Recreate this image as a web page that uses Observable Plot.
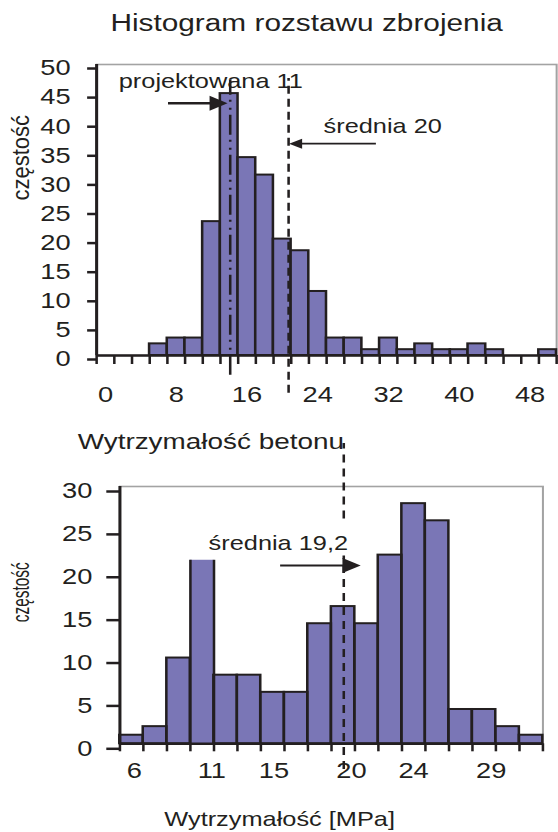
<!DOCTYPE html>
<html>
<head>
<meta charset="utf-8">
<script src="https://cdn.jsdelivr.net/npm/d3@7"></script>
<script src="https://cdn.jsdelivr.net/npm/@observablehq/plot@0.6"></script>
<style>
  body { margin: 0; background: #fff; }
  #chart svg { display: block; }
</style>
</head>
<body>
<div id="chart"></div>
<script>
// ---------- data: spacing histogram (top) ----------
const spacingCenters = [0, 2, 4, 6, 8, 10, 12, 14, 16, 18, 20, 22, 24, 26, 28, 30, 32, 34, 36, 38, 40, 42, 44, 46, 48, 50];
const spacingCounts  = [0, 0, 0, 2, 3, 3, 23, 45, 34, 31, 20, 18, 11, 3, 3, 1, 3, 1, 2, 1, 1, 2, 1, 0, 0, 1];
const spacingBinWidth = 2;
const spacingXTicks = [0, 8, 16, 24, 32, 40, 48];
const spacingYTicks = [0, 5, 10, 15, 20, 25, 30, 35, 40, 45, 50];
const spacingDesign = 14.1;   // "projektowana 11" line
const spacingMean = 20.7;     // "średnia 20" line

// ---------- data: concrete strength histogram (bottom) ----------
const strengthEdges  = [5.08, 6.59, 8.11, 9.62, 11.14, 12.65, 14.16, 15.68, 17.19, 18.71, 20.22, 21.73, 23.25, 24.76, 26.28, 27.79, 29.30, 30.82, 32.33];
const strengthCounts = [1, 2, 10, 21.4, 8, 8, 6, 6, 14, 16, 14, 22, 28, 26, 4, 4, 2, 1];
const strengthCutBin = 3;     // bar drawn without top edge
const strengthXTicks = [6, 11, 15, 20, 24, 29];
const strengthYTicks = [0, 5, 10, 15, 20, 25, 30];
const strengthMean = 19.5;    // "średnia 19,2" line

// ---------- styles ----------
const W = 440, S = 558 / W;
const INK = "#231f20", FILL = "#7a76b6", FRAME = "#a3a3a3";
const FONT = "'Liberation Sans', Arial, Helvetica, sans-serif";

const headRight = (L, H) => ({draw(ctx) { ctx.moveTo(0, 0); ctx.lineTo(-L, -H); ctx.lineTo(-L, H); ctx.closePath(); }});
const headLeft  = (L, H) => ({draw(ctx) { ctx.moveTo(0, 0); ctx.lineTo(L, -H); ctx.lineTo(L, H); ctx.closePath(); }});

function stretch(svg, h) {
  svg.setAttribute("width", 558);
  svg.setAttribute("height", h);
  svg.setAttribute("preserveAspectRatio", "none");
  svg.style.width = "558px";
  svg.style.height = h + "px";
  svg.style.maxWidth = "none";
  svg.style.overflow = "visible";
  return svg;
}
function squeezeText(svg, label, sx, sy) {
  svg.querySelectorAll("text").forEach(t => {
    if (t.textContent === label) {
      const tr = t.getAttribute("transform") || "";
      t.setAttribute("transform", tr + ` scale(${sx},${sy})`);
    }
  });
}

// ---------- top chart ----------
const spacingBins = spacingCenters.map((c, i) => ({x1: c - spacingBinWidth / 2, x2: c + spacingBinWidth / 2, count: spacingCounts[i]}));
const spacingEdges = spacingBins.map(d => d.x1).concat([spacingBins[spacingBins.length - 1].x2]);
const xMin = spacingEdges[0], xMax = spacingEdges[spacingEdges.length - 1];

const H1 = 420;
const spacingChart = Plot.plot({
  width: W, height: H1,
  marginLeft: 96 / S, marginRight: 2 / S, marginTop: 64, marginBottom: 65,
  style: {fontFamily: FONT, fontSize: "21.5px", color: INK, background: "white", overflow: "visible"},
  x: {domain: [xMin, xMax], label: null},
  y: {domain: [0, 50], label: null},
  marks: [
    Plot.frame({stroke: FRAME, strokeWidth: 1.6}),
    Plot.rect(spacingBins.filter(d => d.count > 0), {x1: "x1", x2: "x2", y1: () => 0, y2: "count", fill: FILL, stroke: INK, strokeWidth: 2}),
    Plot.ruleY([0], {stroke: INK, strokeWidth: 2.6}),
    Plot.ruleX([xMin], {y1: () => 0, y2: () => 50, stroke: INK, strokeWidth: 2.4}),
    Plot.axisY(spacingYTicks, {tickSize: 7, tickPadding: 13.5, stroke: INK, strokeWidth: 2.5, fontSize: 21.5, dy: 4, fill: INK}),
    Plot.axisX(spacingEdges, {tickSize: 9, stroke: INK, strokeWidth: 2, tickFormat: () => ""}),
    Plot.axisX(spacingXTicks, {tickSize: 0, tickPadding: 31, fontSize: 21.5, fill: INK}),
    // reference lines
    Plot.ruleX([spacingDesign], {y1: () => -3.4, y2: () => 47.3, stroke: INK, strokeWidth: 2, strokeDasharray: "20,5,2,6,2,5"}),
    Plot.ruleX([spacingMean], {y1: () => -6.5, y2: () => 47.6, stroke: INK, strokeWidth: 2, strokeDasharray: "8,5"}),
    // annotations
    Plot.text(["projektowana 11"], {x: () => 1.5, y: () => 47, text: d => d, textAnchor: "start", fontSize: 20, fill: INK}),
    Plot.ruleY([43.35], {x1: () => 7.14, x2: () => 12.5, stroke: INK, strokeWidth: 2.5}),
    Plot.dot([43.35], {x: () => 13.8, y: d => d, r: 5, symbol: headRight(14.2, 7.5), fill: INK, stroke: "none"}),
    Plot.text(["średnia 20"], {x: () => 24.65, y: () => 39.35, text: d => d, textAnchor: "start", fontSize: 20, fill: INK}),
    Plot.ruleY([36.4], {x1: () => 30.64, x2: () => 21.5, stroke: INK, strokeWidth: 1.6}),
    Plot.dot([36.4], {x: () => 20.75, y: d => d, r: 4, symbol: headLeft(10.3, 5), fill: INK, stroke: "none"}),
    // titles
    Plot.text(["Histogram rozstawu zbrojenia"], {frameAnchor: "top", text: d => d, dx: -20 / S, dy: -(64 - 22.5), lineAnchor: "middle", fontSize: 23.5, fill: INK}),
    Plot.text(["częstość"], {frameAnchor: "left", text: d => d, rotate: -90, dx: 21 / S - 96 / S, dy: -9.5, lineAnchor: "middle", fontSize: 22, fill: INK})
  ]
});

// ---------- bottom chart ----------
const strengthBins = strengthCounts.map((c, i) => ({x1: strengthEdges[i], x2: strengthEdges[i + 1], count: c, cut: i === strengthCutBin}));
const sMin = strengthEdges[0], sMax = strengthEdges[strengthEdges.length - 1];

const H2 = 412;
const strengthChart = Plot.plot({
  width: W, height: H2,
  marginLeft: 119.3 / S, marginRight: (558 - 542.3) / S, marginTop: 66, marginBottom: H2 - 323.3,
  style: {fontFamily: FONT, fontSize: "21.5px", color: INK, background: "white", overflow: "visible"},
  x: {domain: [sMin, sMax], label: null},
  y: {domain: [0, 30], label: null},
  marks: [
    Plot.frame({stroke: FRAME, strokeWidth: 1.6}),
    Plot.rect(strengthBins, {x1: "x1", x2: "x2", y1: () => 0, y2: "count", fill: FILL}),
    Plot.rect(strengthBins.filter(d => !d.cut), {x1: "x1", x2: "x2", y1: () => 0, y2: "count", fill: "none", stroke: INK, strokeWidth: 2}),
    Plot.ruleX(strengthBins.filter(d => d.cut), {x: "x1", y1: () => 0, y2: "count", stroke: INK, strokeWidth: 2}),
    Plot.ruleX(strengthBins.filter(d => d.cut), {x: "x2", y1: () => 0, y2: "count", stroke: INK, strokeWidth: 2}),
    Plot.ruleY([0], {stroke: INK, strokeWidth: 2.6}),
    Plot.ruleX([sMin], {y1: () => 0, y2: () => 30, stroke: INK, strokeWidth: 2.4}),
    Plot.axisY(strengthYTicks, {tickSize: 10.25, tickPadding: 11.5, stroke: INK, strokeWidth: 2.5, fontSize: 21.5, dy: 5, fill: INK}),
    Plot.axisX(strengthEdges, {tickSize: 8, stroke: INK, strokeWidth: 2, tickFormat: () => ""}),
    Plot.axisX(strengthXTicks, {tickSize: 0, tickPadding: 18.7, fontSize: 21.5, fill: INK}),
    // mean line (interrupted by label)
    Plot.ruleX([strengthMean], {y1: () => 26.2, y2: () => 35, stroke: INK, strokeWidth: 2, strokeDasharray: "8,6"}),
    Plot.ruleX([strengthMean], {y1: () => -3, y2: () => 21.9, stroke: INK, strokeWidth: 2, strokeDasharray: "8,6"}),
    // annotation
    Plot.text(["średnia 19,2"], {x: () => 10.79, y: () => 23.35, text: d => d, textAnchor: "start", fontSize: 20, fill: INK}),
    Plot.ruleY([20.8], {x1: () => 15.44, x2: () => 19.8, stroke: INK, strokeWidth: 2}),
    Plot.dot([20.8], {x: () => 20.59, y: d => d, r: 5, symbol: headRight(14.4, 7.5), fill: INK, stroke: "none"}),
    // titles
    Plot.text(["Wytrzymałość betonu"], {frameAnchor: "top-left", text: d => d, textAnchor: "start", dx: (77 - 119.3) / S, dy: -45, lineAnchor: "middle", fontSize: 22, fill: INK}),
    Plot.text(["Wytrzymałość [MPa]"], {frameAnchor: "bottom", text: d => d, dx: (279 - 330.8) / S, dy: 75.5, lineAnchor: "middle", fontSize: 20, fill: INK}),
    Plot.text(["częstość"], {frameAnchor: "left", text: d => d, rotate: -90, dx: 21 / S - 119.3 / S, dy: 7, lineAnchor: "middle", fontSize: 22, fill: INK})
  ]
});

squeezeText(spacingChart, "częstość", 1, 0.85);
squeezeText(strengthChart, "częstość", 0.7, 0.85);

const root = document.getElementById("chart");
root.appendChild(stretch(spacingChart, H1));
root.appendChild(stretch(strengthChart, H2));
</script>
</body>
</html>
